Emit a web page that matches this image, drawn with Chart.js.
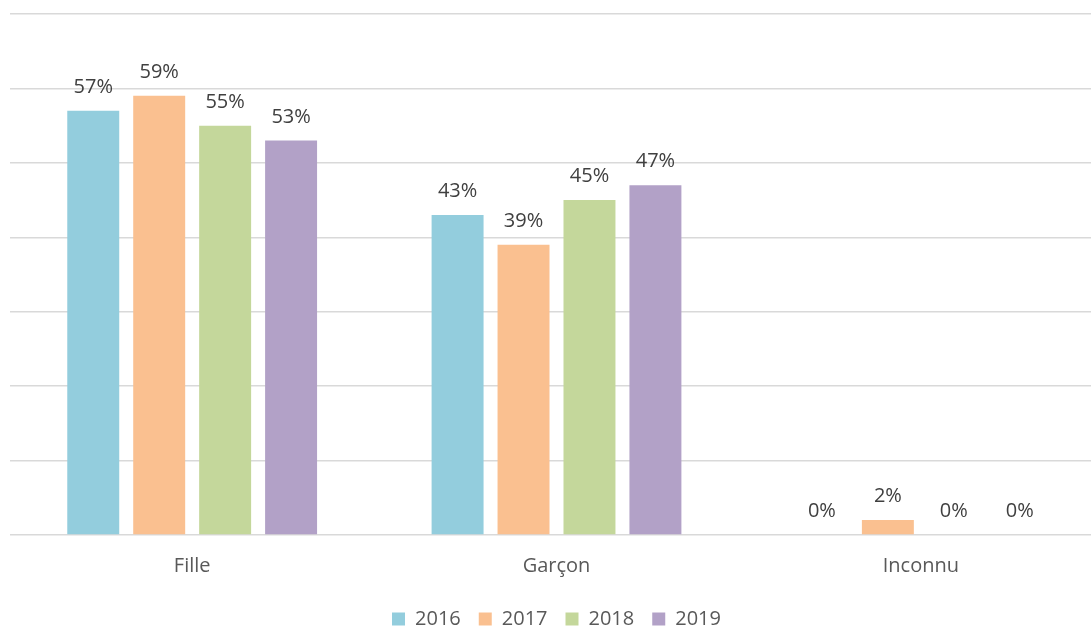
<!DOCTYPE html>
<html>
<head>
<meta charset="utf-8">
<script src="https://cdn.jsdelivr.net/npm/chart.js@4/dist/chart.umd.min.js"></script>
<style>
html,body{margin:0;padding:0;background:#fff;overflow:hidden;}
#wrap{position:relative;width:1139px;height:628px;}
</style>
</head>
<body>
<div id="wrap"><canvas id="c"></canvas></div>
<script>
const categories = ['Fille', 'Garçon', 'Inconnu'];
const years = ['2016', '2017', '2018', '2019'];
const values2016 = [57, 43, 0];
const values2017 = [59, 39, 2];
const values2018 = [55, 45, 0];
const values2019 = [53, 47, 0];
const colors = ['#93CDDD', '#FAC090', '#C4D79B', '#B2A1C7'];
const seriesValues = [values2016, values2017, values2018, values2019];
const FONT = "'Open Sans', 'Liberation Sans', sans-serif";

const labelPlugin = {
  id: 'valueLabels',
  afterDatasetsDraw(chart) {
    const ctx = chart.ctx;
    ctx.save();
    ctx.font = '20px ' + FONT;
    ctx.fillStyle = '#404040';
    ctx.textAlign = 'center';
    ctx.textBaseline = 'alphabetic';
    chart.data.datasets.forEach((ds, i) => {
      const meta = chart.getDatasetMeta(i);
      meta.data.forEach((bar, j) => {
        ctx.fillText(ds.data[j] + '%', bar.x, bar.y - 18);
      });
    });
    ctx.restore();
  }
};

new Chart(document.getElementById('c'), {
  type: 'bar',
  data: {
    labels: categories,
    datasets: years.map((y, i) => ({
      label: y,
      data: seriesValues[i],
      backgroundColor: colors[i],
      borderWidth: 0,
      categoryPercentage: 0.724,
      barPercentage: 0.788
    }))
  },
  options: {
    responsive: true,
    maintainAspectRatio: false,
    animation: false,
    layout: { padding: { left: 10, right: 36, top: 14, bottom: -11 } },
    plugins: {
      tooltip: { enabled: false },
      legend: {
        position: 'bottom',
        labels: {
          boxWidth: 13,
          boxHeight: 13,
          padding: 18,
          color: '#595959',
          font: { family: FONT, size: 20 }
        }
      }
    },
    scales: {
      x: {
        grid: { display: false },
        border: { display: false },
        ticks: { color: '#595959', font: { family: FONT, size: 20 }, padding: 11 },
        afterFit(scale) { scale.height += 2; }
      },
      y: {
        min: 0,
        max: 70,
        ticks: { display: false, stepSize: 10 },
        border: { display: false },
        grid: { color: '#D9D9D9', lineWidth: 1.5, drawTicks: false }
      }
    }
  },
  plugins: [labelPlugin]
});
</script>
</body>
</html>
